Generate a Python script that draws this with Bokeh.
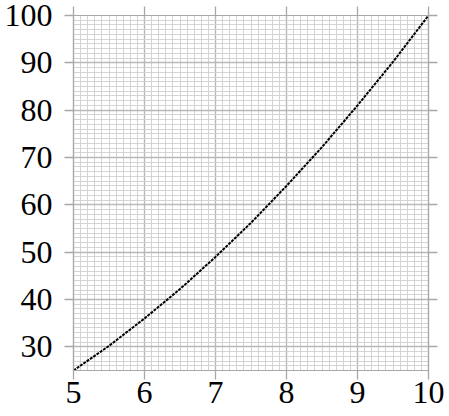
from bokeh.plotting import figure
from bokeh.models import FixedTicker, LinearAxis, Range1d, CustomLabelingPolicy
from bokeh.embed import file_html
from bokeh.resources import INLINE

# data
x_vals = [5.0, 5.5, 6.0, 6.5, 7.0, 7.5, 8.0, 8.5, 9.0, 9.5, 10.0]
y_vals = [25.0, 30.2, 36.0, 42.2, 49.0, 56.2, 64.0, 72.2, 81.0, 90.2, 100.0]
x_ticks = [5, 6, 7, 8, 9, 10]
y_ticks = [30, 40, 50, 60, 70, 80, 90, 100]
x_minor = [round(5 + i * 0.1, 1) for i in range(51)]
y_minor = list(range(25, 101))

FONT = "Liberation Serif"
GRID_MAJOR = "#b8b8b8"
GRID_MINOR = "#cfcfcf"
AX = "#a8a8a8"

p = figure(frame_width=355, frame_height=355, output_backend="svg",
           toolbar_location=None, x_range=Range1d(5, 10), y_range=Range1d(25, 100),
           min_border_left=73, min_border_top=15, min_border_right=21, min_border_bottom=46)
p.outline_line_color = AX
p.outline_line_width = 1.2
p.background_fill_color = "white"

xt = FixedTicker(ticks=x_ticks, minor_ticks=x_minor)
yt = FixedTicker(ticks=y_ticks, minor_ticks=y_minor)
p.xaxis.ticker = xt
p.yaxis.ticker = yt

for g in (p.xgrid, p.ygrid):
    g.grid_line_color = GRID_MAJOR
    g.grid_line_width = 1.4
    g.minor_grid_line_color = GRID_MINOR
    g.minor_grid_line_width = 0.9
p.xgrid.ticker = xt
p.ygrid.ticker = yt

def style(ax):
    ax.axis_line_color = AX
    ax.axis_line_width = 1.2
    ax.major_tick_line_color = AX
    ax.major_tick_line_width = 1.3
    ax.major_tick_out = 9
    ax.major_tick_in = 0
    ax.minor_tick_out = 0
    ax.minor_tick_in = 0
    ax.major_label_text_font = FONT
    ax.major_label_text_font_size = "32px"
    ax.major_label_text_color = "black"

style(p.xaxis[0])
style(p.yaxis[0])
p.xaxis[0].major_label_standoff = 2
p.yaxis[0].major_label_standoff = 12

no_labels = CustomLabelingPolicy(code="""
    for (const i of indices) indices.unset(i)
    return indices
""")
top = LinearAxis(ticker=FixedTicker(ticks=x_ticks, minor_ticks=[]))
right = LinearAxis(ticker=FixedTicker(ticks=y_ticks, minor_ticks=[]))
for ax in (top, right):
    style(ax)
    ax.major_label_text_font_size = "1px"
    ax.major_label_standoff = 0
    ax.major_label_policy = no_labels
p.add_layout(top, "above")
p.add_layout(right, "right")

p.line(x_vals, y_vals, line_color="black", line_width=2, line_dash="3 1")

open("out.html", "w").write(file_html(p, INLINE))
